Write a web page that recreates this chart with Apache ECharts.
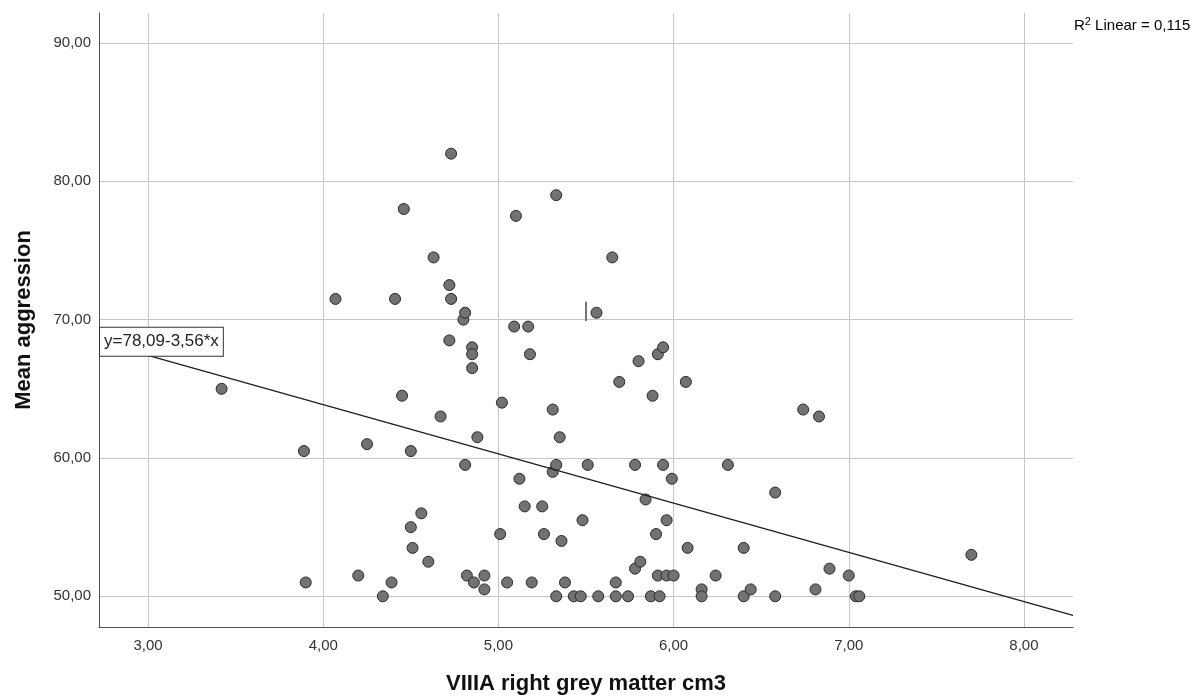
<!DOCTYPE html>
<html>
<head>
<meta charset="utf-8">
<script src="https://cdn.jsdelivr.net/npm/echarts@6/dist/echarts.min.js"></script>
<style>
  html, body { margin: 0; padding: 0; background: #fff; }
  #main { width: 1204px; height: 700px; }
</style>
</head>
<body>
<div id="main"></div>
<script>
// grey matter volume (cm3) per subject
let greyMatter = [
    3.42, 3.89, 3.90, 4.07, 4.20, 4.25, 4.34, 4.39, 4.41, 4.45,
    4.46, 4.50, 4.50, 4.51, 4.56, 4.60, 4.63, 4.67, 4.72, 4.72,
    4.73, 4.73, 4.80, 4.81, 4.81, 4.82, 4.85, 4.85, 4.85, 4.86,
    4.88, 4.92, 4.92, 5.01, 5.02, 5.05, 5.09, 5.10, 5.12, 5.15,
    5.17, 5.18, 5.19, 5.25, 5.26, 5.31, 5.31, 5.33, 5.33, 5.33,
    5.35, 5.36, 5.38, 5.43, 5.47, 5.48, 5.51, 5.56, 5.57, 5.65,
    5.67, 5.67, 5.69, 5.74, 5.78, 5.78, 5.80, 5.81, 5.84, 5.87,
    5.88, 5.90, 5.91, 5.91, 5.92, 5.94, 5.94, 5.96, 5.96, 5.99,
    6.00, 6.07, 6.08, 6.16, 6.16, 6.24, 6.31, 6.40, 6.40, 6.44,
    6.58, 6.58, 6.74, 6.81, 6.83, 6.89, 7.00, 7.04, 7.06, 7.70
];
// mean aggression per subject
let aggression = [
    65.0, 60.5, 51.0, 71.5, 51.5, 61.0, 50.0, 51.0, 71.5, 64.5,
    78.0, 55.0, 60.5, 53.5, 56.0, 52.5, 74.5, 63.0, 68.5, 72.5,
    71.5, 82.0, 70.0, 70.5, 59.5, 51.5, 68.0, 67.5, 66.5, 51.0,
    61.5, 51.5, 50.5, 54.5, 64.0, 51.0, 69.5, 77.5, 58.5, 56.5,
    69.5, 67.5, 51.0, 56.5, 54.5, 63.5, 59.0, 59.5, 50.0, 79.0,
    61.5, 54.0, 51.0, 50.0, 50.0, 55.5, 59.5, 70.5, 50.0, 74.5,
    51.0, 50.0, 65.5, 50.0, 52.0, 59.5, 67.0, 52.5, 57.0, 50.0,
    64.5, 54.5, 67.5, 51.5, 50.0, 68.0, 59.5, 51.5, 55.5, 58.5,
    51.5, 65.5, 53.5, 50.5, 50.0, 51.5, 59.5, 53.5, 50.0, 50.5,
    57.5, 50.0, 63.5, 50.5, 63.0, 52.0, 51.5, 50.0, 50.0, 53.0
];

let xTicks = [3, 4, 5, 6, 7, 8];
let yTicks = [50, 60, 70, 80, 90];

// fitted line y = a + b*x
let fitIntercept = 78.09;
let fitSlope = -3.56;
let fitText = 'y=78,09-3,56*x';
let r2Value = '0,115';

// the little stray bar above the 70 line
let stubX = [5.50, 5.50];
let stubY = [69.9, 71.3];

let font = "'Liberation Sans', Arial, sans-serif";
let xMin = 2.72, xMax = 8.28;
let yMin = 47.78, yMax = 92.17;

function fmt(v) {
    return v.toFixed(2).replace('.', ',');
}

let points = [];
for (let i = 0; i < greyMatter.length; i++) {
    points.push([greyMatter[i], aggression[i]]);
}

let fitLine = [xMin, xMax].map(function (x, i) {
    let item = { value: [x, fitIntercept + fitSlope * x] };
    if (i === 0) {
        // equation box sits on the left end of the line
        item.label = {
            show: true,
            position: 'right',
            distance: 1,
            formatter: fitText,
            fontFamily: font,
            fontSize: 17,
            color: '#222',
            lineHeight: 20,
            backgroundColor: '#fff',
            borderColor: '#333',
            borderWidth: 1,
            padding: [4, 4, 4, 4]
        };
    }
    return item;
});

let stub = stubX.map(function (x, i) { return [x, stubY[i]]; });

let myChart = echarts.init(document.getElementById('main'));
let option = {
    backgroundColor: '#fff',
    animation: false,
    grid: {
        left: 99,
        top: 13,
        right: 131,
        bottom: 73,
        containLabel: false,
        outerBoundsMode: 'none'
    },
    xAxis: {
        type: 'value',
        min: xMin,
        max: xMax,
        name: 'VIIIA right grey matter cm3',
        nameLocation: 'middle',
        nameGap: 46,
        nameTextStyle: { fontFamily: font, fontSize: 22, fontWeight: 'bold', color: '#111' },
        axisLine: { show: true, onZero: false, lineStyle: { color: '#505050', width: 1 } },
        axisTick: { show: false, customValues: xTicks },
        axisLabel: {
            customValues: xTicks,
            formatter: fmt,
            margin: 11,
            fontFamily: font,
            fontSize: 15,
            color: '#333'
        },
        splitLine: { show: true, lineStyle: { color: '#c6c6c6', width: 1 } }
    },
    yAxis: {
        type: 'value',
        min: yMin,
        max: yMax,
        name: 'Mean aggression',
        nameLocation: 'middle',
        nameGap: 64,
        nameTextStyle: { fontFamily: font, fontSize: 22, fontWeight: 'bold', color: '#111' },
        axisLine: { show: true, onZero: false, lineStyle: { color: '#505050', width: 1 } },
        axisTick: { show: false, customValues: yTicks },
        axisLabel: {
            customValues: yTicks,
            formatter: fmt,
            margin: 8,
            fontFamily: font,
            fontSize: 15,
            color: '#333'
        },
        splitLine: { show: true, lineStyle: { color: '#c6c6c6', width: 1 } }
    },
    graphic: [{
        type: 'text',
        left: 1074,
        top: 16,
        style: {
            text: '{r|R}{s|2}{r| Linear = ' + r2Value + '}',
            rich: {
                r: { fontFamily: font, fontSize: 15, color: '#222', lineHeight: 19 },
                s: { fontFamily: font, fontSize: 11, color: '#222', verticalAlign: 'top', lineHeight: 11 }
            }
        }
    }],
    series: [
        {
            name: 'stub',
            type: 'line',
            data: stub,
            symbol: 'none',
            silent: true,
            lineStyle: { color: '#777', width: 2 },
            z: 1
        },
        {
            name: 'fit',
            type: 'line',
            data: fitLine,
            symbol: 'circle',
            symbolSize: 0,
            showSymbol: true,
            silent: true,
            lineStyle: { color: '#1e1e1e', width: 1.3 },
            z: 3
        },
        {
            name: 'subjects',
            type: 'scatter',
            data: points,
            symbolSize: 11,
            itemStyle: { color: '#727272', borderColor: '#2a2a2a', borderWidth: 1, opacity: 1 },
            z: 2
        }
    ]
};
myChart.setOption(option);
</script>
</body>
</html>
